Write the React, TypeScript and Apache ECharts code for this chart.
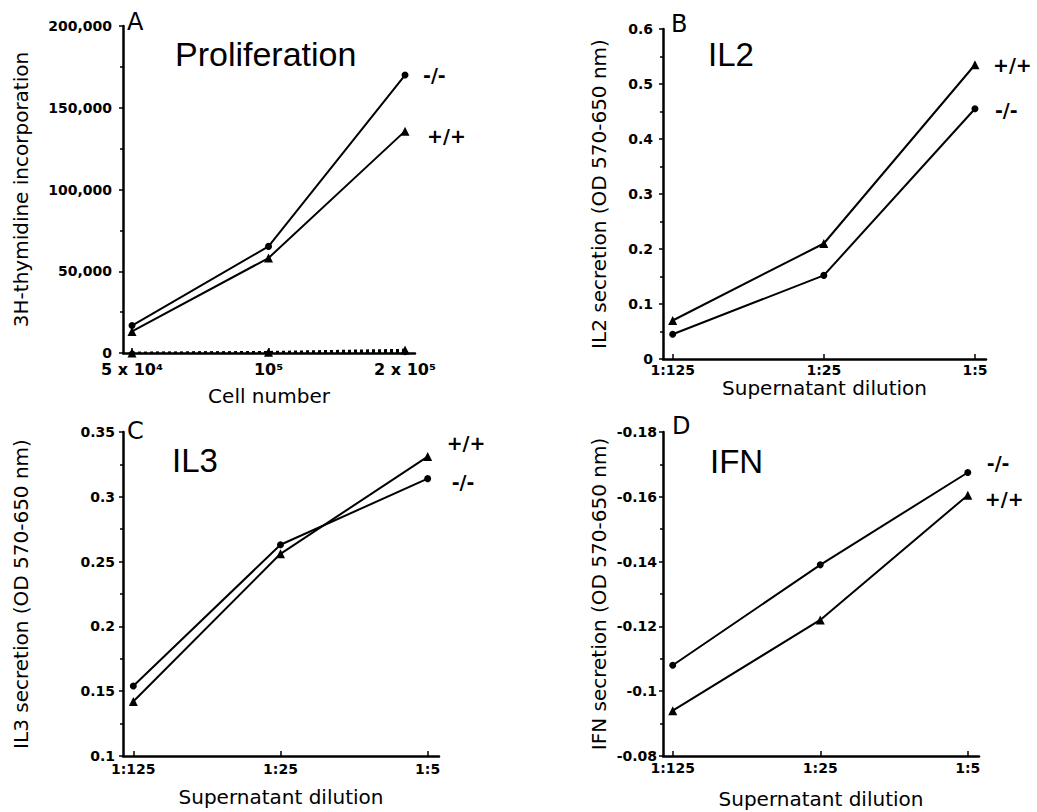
import React, { useEffect, useRef } from "react";
import * as echarts from "echarts";

// ---- data ----
const cellNumbers = ["5 x 10\u2074", "10\u2075", "2 x 10\u2075"];
const dilutions = ["1:125", "1:25", "1:5"];

const prolifKO = [16800, 65200, 170000];
const prolifWT = [13200, 58100, 135700];
const prolifKOUnstim = [0, 200, 600];
const prolifWTUnstim = [0, 500, 1800];

const il2WT = [0.07, 0.21, 0.535];
const il2KO = [0.045, 0.152, 0.455];

const il3WT = [0.142, 0.256, 0.331];
const il3KO = [0.154, 0.263, 0.314];

const ifnKO = [-0.108, -0.139, -0.1675];
const ifnWT = [-0.094, -0.122, -0.1605];

const labelKO = "-/-";
const labelWT = "+/+";

const toPts = (arr: number[]) => arr.map((v, i) => [i, v]);

const TICK_FONT = "DejaVu Sans";
const NAME_FONT = "DejaVu Sans";
const AXIS_COLOR = "#000";

function yAxisBase(gridIndex: number, name: string, min: number, max: number, interval: number, nameGap: number, margin: number, fmt: (v: number) => string, inverse = false) {
  return {
    type: "value",
    gridIndex,
    min,
    max,
    interval,
    inverse,
    name,
    nameLocation: "middle",
    nameGap,
    nameTextStyle: { fontFamily: NAME_FONT, fontSize: 20, color: "#000" },
    axisLine: { show: true, onZero: false, lineStyle: { color: AXIS_COLOR, width: 2.5 } },
    axisTick: { show: true, length: 4, lineStyle: { color: "#000", width: 1.5 } },
    minorTick: { show: true, splitNumber: 2, length: 3, lineStyle: { color: "#000", width: 1.5 } },
    splitLine: { show: false },
    axisLabel: {
      fontFamily: TICK_FONT,
      fontWeight: "bold",
      fontSize: 14,
      color: "#000",
      margin,
      padding: [0, 0, 6, 0],
      formatter: fmt,
    },
  };
}

function xAxisBase(gridIndex: number, name: string, min: number, max: number, nameGap: number, margin: number, labels: string[], fontSize = 14) {
  return {
    type: "value",
    gridIndex,
    min,
    max,
    name,
    nameLocation: "middle",
    nameGap,
    nameTextStyle: { fontFamily: NAME_FONT, fontSize: 20, color: "#000" },
    axisLine: { show: true, onZero: false, lineStyle: { color: AXIS_COLOR, width: 2.5 } },
    axisTick: { show: true, inside: true, length: 5, customValues: [0, 1, 2], lineStyle: { color: "#000", width: 1.5 } },
    splitLine: { show: false },
    axisLabel: {
      customValues: [0, 1, 2],
      fontFamily: TICK_FONT,
      fontWeight: "bold",
      fontSize,
      color: "#000",
      margin,
      formatter: (v: number) => labels[Math.round(v)],
    },
  };
}

function lineSeries(xi: number, data: number[], symbol: string, endText: string | null, dx = 0, dy = 0, dashed = false) {
  const s: any = {
    type: "line",
    xAxisIndex: xi,
    yAxisIndex: xi,
    data: toPts(data),
    symbol,
    symbolSize: symbol === "triangle" ? 9 : 7,
    showAllSymbol: true,
    itemStyle: { color: "#000" },
    lineStyle: { color: "#000", width: dashed ? 2.5 : 2, type: dashed ? [3, 3] : "solid" },
  };
  if (endText) {
    s.endLabel = {
      show: true,
      formatter: endText,
      distance: dx,
      offset: [0, dy],
      fontFamily: "DejaVu Sans",
      fontWeight: "bold",
      fontSize: 19,
      color: "#000",
    };
  }
  return s;
}

const fmt3 = (v: number) => String(+v.toFixed(3));
const fmtComma = (v: number) => Math.round(v).toLocaleString("en-US");

export default function App() {
  const ref = useRef<HTMLDivElement>(null);
  useEffect(() => {
    if (!ref.current) return;
    const chart = echarts.init(ref.current, null, { renderer: "svg" });

    const textStyle = (txt: string, x: number, y: number, size: number, family: string, weight = "normal") => ({
      type: "text",
      x,
      y,
      style: { text: txt, fill: "#000", font: `${weight} ${size}px "${family}"`, verticalAlign: "middle" },
    });

    chart.setOption({
      animation: false,
      backgroundColor: "#fff",
      grid: [
        { left: 123, top: 26, width: 292, height: 327 },
        { left: 663, top: 29, width: 323, height: 330 },
        { left: 123, top: 432, width: 316, height: 324 },
        { left: 663, top: 432, width: 316, height: 324 },
      ],
      xAxis: [
        xAxisBase(0, "Cell number", -0.066, 2.073, 33, 8, cellNumbers, 16),
        xAxisBase(1, "Supernatant dilution", -0.064, 2.073, 19, 4, dilutions),
        xAxisBase(2, "Supernatant dilution", -0.07, 2.077, 31, 6, dilutions),
        xAxisBase(3, "Supernatant dilution", -0.066, 2.076, 33, 5, dilutions),
      ],
      yAxis: [
        yAxisBase(0, "3H-thymidine incorporation", 0, 200000, 50000, 92, 11, fmtComma),
        yAxisBase(1, "IL2 secretion (OD 570-650 nm)", 0, 0.6, 0.1, 54, 10, fmt3),
        yAxisBase(2, "IL3 secretion (OD 570-650 nm)", 0.1, 0.35, 0.05, 92, 8, fmt3),
        yAxisBase(3, "IFN secretion (OD 570-650 nm)", -0.18, -0.08, 0.02, 54, 6, fmt3, true),
      ],
      series: [
        lineSeries(0, prolifKO, "circle", labelKO, 18, 0),
        lineSeries(0, prolifWT, "triangle", labelWT, 22, 5),
        lineSeries(0, prolifKOUnstim, "diamond", null, 0, 0, true),
        lineSeries(0, prolifWTUnstim, "triangle", null, 0, 0, true),
        lineSeries(1, il2WT, "triangle", labelWT, 18, 0),
        lineSeries(1, il2KO, "circle", labelKO, 20, 1),
        lineSeries(2, il3WT, "triangle", labelWT, 19, -14),
        lineSeries(2, il3KO, "circle", labelKO, 24, 3),
        lineSeries(3, ifnKO, "circle", labelKO, 19, -10),
        lineSeries(3, ifnWT, "triangle", labelWT, 17, 4),
      ],
      graphic: [
        textStyle("A", 127, 22, 24, "DejaVu Sans"),
        textStyle("B", 671, 24, 24, "DejaVu Sans"),
        textStyle("C", 127, 431, 24, "DejaVu Sans"),
        textStyle("D", 672, 426, 24, "DejaVu Sans"),
        textStyle("Proliferation", 175, 54, 34, "Liberation Sans"),
        textStyle("IL2", 708, 54, 33, "Liberation Sans"),
        textStyle("IL3", 172, 460, 33, "Liberation Sans"),
        textStyle("IFN", 710, 461, 33, "Liberation Sans"),
      ],
    });
    return () => chart.dispose();
  }, []);
  return (
    <div
      ref={ref}
      style={{ position: "absolute", left: 0, top: 0, width: 1037, height: 812, background: "#fff" }}
    />
  );
}
